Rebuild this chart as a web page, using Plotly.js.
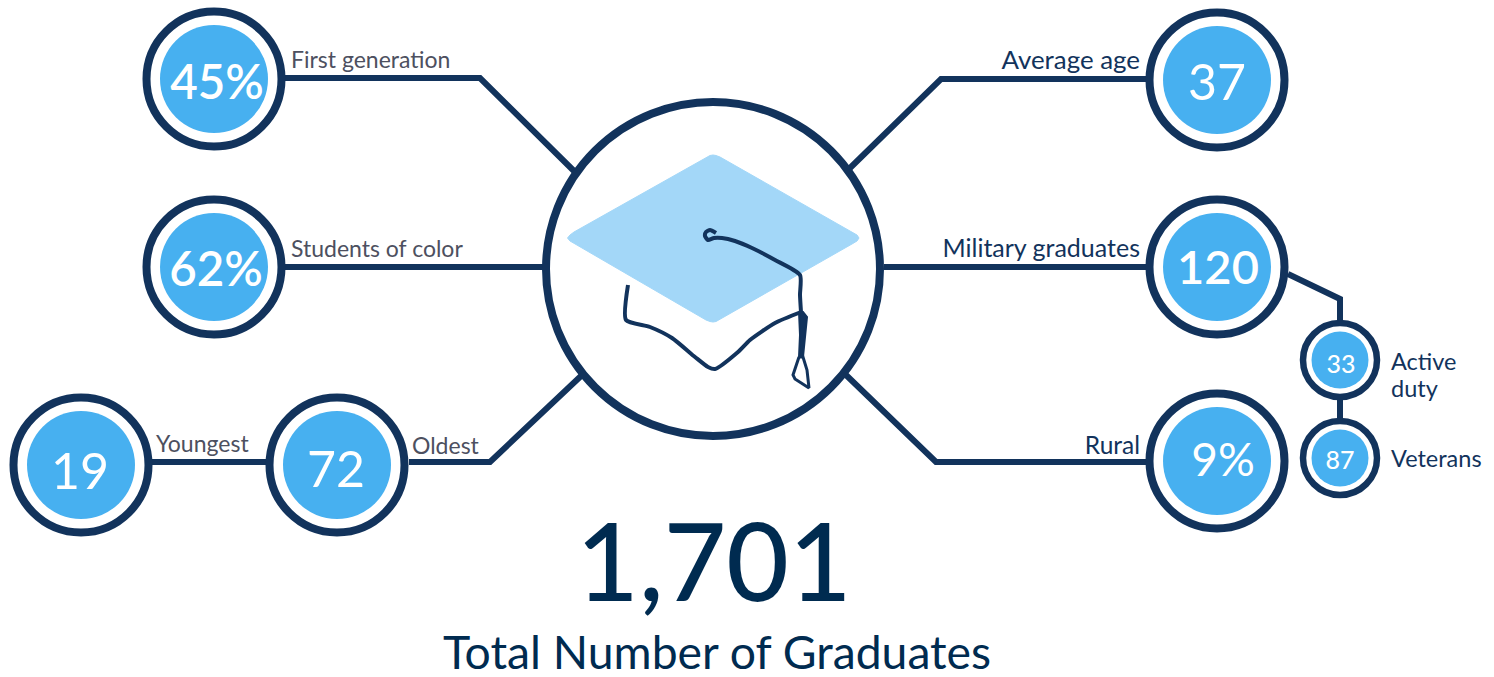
<!DOCTYPE html>
<html><head><meta charset="utf-8">
<script src="https://cdn.plot.ly/plotly-3.0.1.min.js"></script>
<style>html,body{margin:0;padding:0;background:#fff}#c{width:1494px;height:677px}</style>
</head><body><div id="c"></div>
<script>
// --- chart content ---
const metricValues = ['45%','62%','19','72','37','120','9%','33','87'];
const metricLabels = ['First generation','Students of color','Youngest','Oldest','Average age','Military graduates','Rural','Active','duty','Veterans'];
const totalValue = '1,701';
const totalLabel = 'Total Number of Graduates';

// --- layout of the diagram (canvas coordinates) ---
const ringX = [214,214,81,337,1217,1217,1217,1340,1340];
const ringY = [79,267,465,465,80,267,461,360,458];
const ringSize = [135,135,135,135,135,135,135,74,74];
const ringLine = [8,8,8,8,8,8,8,6.5,6.5];
const discSize = [108,108,108,108,108,108,108,57,57];
const valueX = [217,216,80,336,1217,1218,1223,1341,1340];
const valueY = [87,274,476,474,87,272,464,367,463];
const valueFont = [47.5,47.5,50,50,50,47,46,25,25];
const valueWeight = [600,600,400,400,400,600,400,500,500];
const labelX = [291,291,156,412,1140,1140,1140,1391,1391,1391];
const labelY = [62,251,446,448,63,251,448,364,391,461];
const labelFont = [23,23,23,23,25.9,25,24.5,23.5,23.5,23.5];
const labelSide = ['middle right','middle right','middle right','middle right','middle left','middle left','middle left','middle right','middle right','middle right'];
const labelColor = ['#4d5060','#4d5060','#4d5060','#4d5060','#12335c','#12335c','#12335c','#12335c','#12335c','#12335c'];
const connectors = [
  [[285,78],[480,78],[575,172]],
  [[285,267],[545,267]],
  [[152,462],[266,462]],
  [[409,462],[490,462],[581,376]],
  [[1146,79],[941,79],[850,168]],
  [[884,267],[1146,267]],
  [[1146,462],[936,462],[846,375]],
  [[1288,274],[1340,299],[1340,322]],
  [[1340,398],[1340,420]]
];
const hubX = [713], hubY = [269];
const capBoard = [[574,232],[706,157],[710,155.5],[713,155],[716,155.5],[720,157],[852,232],[857,235],[859,238],[857,241],[852,244],[720,320],[716,321.5],[713,322],[710,321.5],[706,320],[574,244],[570,241],[567.5,238],[570,235],[574,232]];
const capCord = [[716,233],[710,230],[706,232],[705,236],[708,240],[714,238],[722,238],[735,241],[752,248],[775,260],[800,275],[800,295],[801,312]];
const capBrim = [[628,285],[626,320],[650,327],[672,338],[695,357],[708,367],[715,369],[738,352],[750,340],[775,323],[801,312]];
const tasselTop = [[799,312],[803,312],[807,317],[805,340],[803,357],[799,357],[800,335],[799,312]];
const tasselLoop = [[799,357],[803,357],[807,370],[809,388],[795,379],[793,375],[799,357]];

const NAVY='#12335c', BLUE='#47b0f0', PALE='#a3d7f8';
const xs=a=>a.map(p=>p[0]), ys=a=>a.map(p=>p[1]);
const traces=[];
connectors.forEach(c=>traces.push({x:xs(c),y:ys(c),mode:'lines',line:{color:NAVY,width:6,simplify:false},type:'scatter'}));
traces.push({x:hubX,y:hubY,mode:'markers',type:'scatter',marker:{size:334,color:'#fff',opacity:1,line:{color:NAVY,width:8}}});
traces.push({x:ringX,y:ringY,mode:'markers',type:'scatter',marker:{size:ringSize,color:'#fff',opacity:1,line:{color:NAVY,width:ringLine}}});
traces.push({x:ringX,y:ringY,mode:'markers',type:'scatter',marker:{size:discSize,color:BLUE,opacity:1,line:{width:0}}});
traces.push({x:xs(capBoard),y:ys(capBoard),mode:'lines',type:'scatter',fill:'toself',fillcolor:PALE,line:{color:PALE,width:1}});
[capCord,capBrim].forEach(c=>traces.push({x:xs(c),y:ys(c),mode:'lines',type:'scatter',line:{color:NAVY,width:4,shape:'spline',smoothing:0.6}}));
traces.push({x:xs(tasselTop),y:ys(tasselTop),mode:'lines',type:'scatter',fill:'toself',fillcolor:NAVY,line:{color:NAVY,width:2}});
traces.push({x:xs(tasselLoop),y:ys(tasselLoop),mode:'lines',type:'scatter',line:{color:NAVY,width:3}});
traces.push({x:valueX,y:valueY,text:metricValues,mode:'text',type:'scatter',textposition:'middle center',
  textfont:{family:'Lato',size:valueFont,color:'#fff',weight:valueWeight}});
traces.push({x:labelX,y:labelY,text:metricLabels,mode:'text',type:'scatter',textposition:labelSide,
  textfont:{family:'Lato',size:labelFont,color:labelColor,weight:400}});
traces.push({x:[714],y:[574],text:[totalValue],mode:'text',type:'scatter',textposition:'middle center',
  textfont:{family:'Lato',size:108,color:'#002b50',weight:500}});
traces.push({x:[717],y:[657],text:[totalLabel],mode:'text',type:'scatter',textposition:'middle center',
  textfont:{family:'Lato',size:46.3,color:'#002b50',weight:400}});

const layout={width:1494,height:677,margin:{l:0,r:0,t:0,b:0,pad:0},paper_bgcolor:'#fff',plot_bgcolor:'#fff',showlegend:false,hovermode:false,
  xaxis:{range:[0,1494],visible:false,fixedrange:true},
  yaxis:{range:[677,0],visible:false,fixedrange:true}};
Plotly.newPlot('c',traces,layout,{displayModeBar:false,staticPlot:true});
</script></body></html>
